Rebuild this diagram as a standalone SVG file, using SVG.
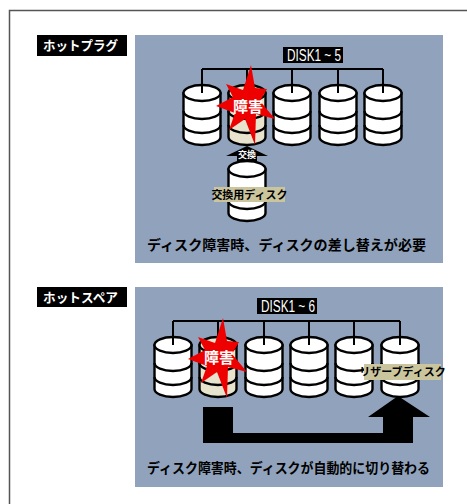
<svg xmlns="http://www.w3.org/2000/svg" xmlns:xlink="http://www.w3.org/1999/xlink" width="467" height="504" viewBox="0 0 467 504">
  <style>
    .frame { fill: #ffffff; stroke: #555555; stroke-width: 1.5; }
    .panel { fill: #91A3BC; }
    .tag { fill: #000000; }
    .tagtext { font-family: "Noto Sans CJK JP", sans-serif; font-weight: bold; font-size: 13px; fill: #ffffff; }
    .bustag { font-family: "Liberation Sans", Arial, sans-serif; font-size: 16px; fill: #ffffff; }
    .bus { fill: none; stroke: #000000; stroke-width: 2; }
    .body { stroke: #000000; stroke-width: 2.4; stroke-linejoin: round; }
    .ok { fill: #ffffff; }
    .bad { fill: #E8E3CD; }
    .star { fill: #EE0000; }
    .startext { font-family: "Noto Sans CJK JP", sans-serif; font-weight: bold; font-size: 15px; fill: #ffffff; }
    .note { fill: #CBC59E; }
    .notetext { font-family: "Noto Sans CJK JP", sans-serif; font-weight: bold; font-size: 11px; fill: #000000; }
    .caption { font-family: "Noto Sans CJK JP", sans-serif; font-weight: bold; font-size: 14px; fill: #000000; }
    .arrowtext { font-family: "Noto Sans CJK JP", sans-serif; font-weight: bold; font-size: 9px; fill: #ffffff; }
  </style>
  <defs>
    <!-- stacked-platter disk, 37 x 60, origin at top-left; fill comes from the parent group -->
    <g id="disk">
      <path class="body" d="M0,8 L0,52 A18.5,8 0 0 0 37,52 L37,8 Z"/>
      <ellipse class="body" cx="18.5" cy="8" rx="18.5" ry="8"/>
      <path class="body" fill="none" d="M0,26 A18.5,8 0 0 0 37,26 M0,40 A18.5,8 0 0 0 37,40"/>
    </g>
    <!-- burst marking a failed disk, centred on (0,0) -->
    <polygon id="burst" class="star" points="5,-39 9,-16 21,-15 14,-3 29,15 10,10 9,41 -1,15 -17,26 -11,9 -30,2 -13,-7 -20,-20 -3,-14"/>
  </defs>

  <rect class="frame" x="9.5" y="10.5" width="470" height="500"/>

  <!-- ===== hot plug ===== -->
  <g id="hotplug-title">
    <rect class="tag" x="37" y="35" width="90" height="21"/>
    <text class="tagtext" x="43" y="50" textLength="75" lengthAdjust="spacingAndGlyphs">ホットプラグ</text>
  </g>
  <rect id="hotplug-panel" class="panel" x="135" y="35" width="308" height="228"/>
  <g id="hotplug-bus-label">
    <rect class="tag" x="283" y="47" width="60" height="16"/>
    <text class="bustag" x="287" y="61" textLength="54" lengthAdjust="spacingAndGlyphs">DISK1 ~ 5</text>
  </g>

  <g id="hotplug-connectors">
    <path class="bus" d="M202,69 H383"/>
  </g>

  <g id="hp-disk1" class="ok"><use xlink:href="#disk" x="183.5" y="85"/></g>
  <g id="hp-disk2" class="bad"><use xlink:href="#disk" x="228.5" y="85"/></g>
  <g id="hp-disk3" class="ok"><use xlink:href="#disk" x="273.5" y="85"/></g>
  <g id="hp-disk4" class="ok"><use xlink:href="#disk" x="319.5" y="85"/></g>
  <g id="hp-disk5" class="ok"><use xlink:href="#disk" x="364.5" y="85"/></g>
  <path class="bus" d="M202,69 V93 M247,69 V93 M292,69 V93 M338,69 V93 M383,69 V93"/>

  <g id="hp-failure">
    <use xlink:href="#burst" x="246" y="104"/>
    <text class="startext" x="248" y="112" text-anchor="middle">障害</text>
  </g>

  <g id="hp-swap-arrow">
    <polygon fill="#000000" points="247,146 268,156 257,156 257,161 237,161 237,156 226,156"/>
    <text class="arrowtext" x="247" y="158" text-anchor="middle">交換</text>
  </g>

  <g id="hp-spare" class="ok">
    <use xlink:href="#disk" x="228.5" y="161"/>
    <rect class="note" x="214" y="187" width="71" height="15"/>
    <text class="notetext" x="249.5" y="199" text-anchor="middle">交換用ディスク</text>
  </g>

  <text id="hotplug-caption" class="caption" x="147" y="250" textLength="279" lengthAdjust="spacingAndGlyphs">ディスク障害時、ディスクの差し替えが必要</text>

  <!-- ===== hot spare ===== -->
  <g id="hotspare-title">
    <rect class="tag" x="37" y="287" width="90" height="20"/>
    <text class="tagtext" x="43" y="302" textLength="75" lengthAdjust="spacingAndGlyphs">ホットスペア</text>
  </g>
  <rect id="hotspare-panel" class="panel" x="135" y="287" width="308" height="200"/>
  <g id="hotspare-bus-label">
    <rect class="tag" x="257" y="298" width="60" height="16"/>
    <text class="bustag" x="261" y="312" textLength="54" lengthAdjust="spacingAndGlyphs">DISK1 ~ 6</text>
  </g>

  <g id="hotspare-connectors">
    <path class="bus" d="M173,321 H400"/>
    <polygon fill="#000000" points="203,407 233,407 233,433 383,433 383,417 368,417 398,396 430,417 413,417 413,443 203,443"/>
  </g>

  <g id="hs-disk1" class="ok"><use xlink:href="#disk" x="154.5" y="337"/></g>
  <g id="hs-disk2" class="bad"><use xlink:href="#disk" x="199.5" y="337"/></g>
  <g id="hs-disk3" class="ok"><use xlink:href="#disk" x="245.5" y="337"/></g>
  <g id="hs-disk4" class="ok"><use xlink:href="#disk" x="290.5" y="337"/></g>
  <g id="hs-disk5" class="ok"><use xlink:href="#disk" x="335.5" y="337"/></g>
  <g id="hs-disk6" class="ok">
    <use xlink:href="#disk" x="381.5" y="337"/>
    <rect class="note" x="364" y="364" width="77" height="16"/>
    <text class="notetext" x="402.5" y="376" text-anchor="middle">リザーブディスク</text>
  </g>
  <path class="bus" d="M173,321 V345 M218,321 V345 M264,321 V345 M309,321 V345 M354,321 V345 M400,321 V345"/>

  <g id="hs-failure">
    <use xlink:href="#burst" x="218" y="357"/>
    <text class="startext" x="219" y="363" text-anchor="middle">障害</text>
  </g>

  <text id="hotspare-caption" class="caption" x="147" y="473" textLength="283" lengthAdjust="spacingAndGlyphs">ディスク障害時、ディスクが自動的に切り替わる</text>
</svg>
